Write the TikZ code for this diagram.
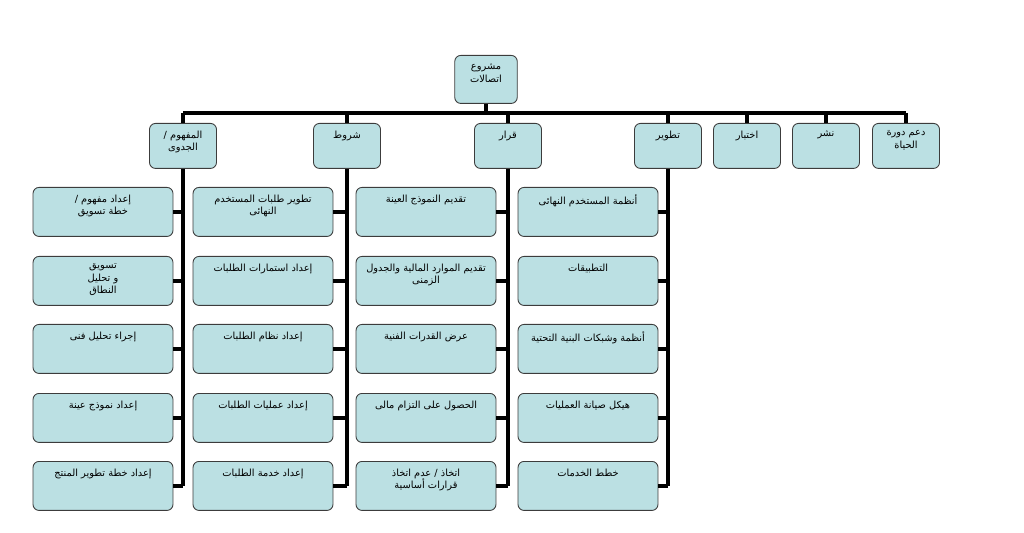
\documentclass[tikz,border=0pt]{standalone}
\usepackage{fontspec}
\newfontfamily\arabicfont[Script=Arabic]{DejaVu Sans}
\TeXXeTstate=1
\usetikzlibrary{positioning}
\definecolor{boxfill}{RGB}{187,224,227}
\definecolor{boxline}{RGB}{60,60,60}
\newcommand{\ar}[1]{{\arabicfont\beginR #1\endR}}
\newcommand{\kidtxt}[1]{\parbox[t][0.9cm][t]{2.6cm}{\fontsize{5.6}{7.2}\selectfont\centering\vspace{3pt}#1}}
\newcommand{\toptxt}[1]{\parbox[t][0.82cm][t]{1.25cm}{\fontsize{5.6}{7.2}\selectfont\centering\vspace{3pt}#1}}
\begin{document}
\begin{tikzpicture}[x=0.02cm,y=-0.02cm,
    kid/.style={draw=boxline,fill=boxfill,rounded corners=1.2mm,line width=0.5pt,
        minimum width=2.8cm,minimum height=0.98cm,inner sep=0pt,anchor=north},
    head/.style={kid,minimum width=1.34cm,minimum height=0.9cm},
    conn/.style={line width=2pt}]
	\useasboundingbox (0,0) rectangle (1024,533);
	
	\node[head,minimum width=1.24cm,minimum height=0.96cm] (root) at (486,55) {\toptxt{\ar{مشروع}\\\ar{اتصالات}}};
	
	\coordinate (barL) at (183,113);
	\coordinate (barR) at (906,113);
	
	\node[head] (t1) at (183,123) {\toptxt{\ar{المفهوم /}\\\ar{الجدوى}}};
	\node[head] (t2) at (347,123) {\toptxt{\ar{شروط}}};
	\node[head] (t3) at (508,123) {\toptxt{\ar{قرار}}};
	\node[head] (t4) at (668,123) {\toptxt{\ar{تطوير}}};
	\node[head] (t5) at (747,123) {\toptxt{\ar{اختبار}}};
	\node[head] (t6) at (826,123) {\toptxt{\ar{نشر}}};
	\node[head] (t7) at (906,123) {\toptxt{\ar{دعم دورة}\\\ar{الحياة}}};
	
	% column 1
	\node[kid] (c1r1) at (103,187) {\kidtxt{\ar{إعداد مفهوم /}\\\ar{خطة تسويق}}};
	\node[kid] (c1r2) at (103,256) {\kidtxt{\ar{تسويق}\\\ar{و تحليل}\\\ar{النطاق}}};
	\node[kid] (c1r3) at (103,324) {\kidtxt{\ar{إجراء تحليل فنى}}};
	\node[kid] (c1r4) at (103,393) {\kidtxt{\ar{إعداد نموذج عينة}}};
	\node[kid] (c1r5) at (103,461) {\kidtxt{\ar{إعداد خطة تطوير المنتج}}};
	
	% column 2
	\node[kid] (c2r1) at (263,187) {\kidtxt{\ar{تطوير طلبات المستخدم}\\\ar{النهائى}}};
	\node[kid] (c2r2) at (263,256) {\kidtxt{\ar{إعداد استمارات الطلبات}}};
	\node[kid] (c2r3) at (263,324) {\kidtxt{\ar{إعداد نظام الطلبات}}};
	\node[kid] (c2r4) at (263,393) {\kidtxt{\ar{إعداد عمليات الطلبات}}};
	\node[kid] (c2r5) at (263,461) {\kidtxt{\ar{إعداد خدمة الطلبات}}};
	
	% column 3
	\node[kid] (c3r1) at (426,187) {\kidtxt{\ar{تقديم النموذج العينة}}};
	\node[kid] (c3r2) at (426,256) {\kidtxt{\ar{تقديم الموارد المالية والجدول}\\\ar{الزمنى}}};
	\node[kid] (c3r3) at (426,324) {\kidtxt{\ar{عرض القدرات الفنية}}};
	\node[kid] (c3r4) at (426,393) {\kidtxt{\ar{الحصول على التزام مالى}}};
	\node[kid] (c3r5) at (426,461) {\kidtxt{\ar{اتخاذ / عدم اتخاذ}\\\ar{قرارات أساسية}}};
	
	% column 4
	\node[kid] (c4r1) at (588,187) {\kidtxt{\ar{أنظمة المستخدم النهائى}}};
	\node[kid] (c4r2) at (588,256) {\kidtxt{\ar{التطبيقات}}};
	\node[kid] (c4r3) at (588,324) {\kidtxt{\ar{أنظمة وشبكات البنية التحتية}}};
	\node[kid] (c4r4) at (588,393) {\kidtxt{\ar{هيكل صيانة العمليات}}};
	\node[kid] (c4r5) at (588,461) {\kidtxt{\ar{خطط الخدمات}}};
	
	\draw[conn] (root.south) -- (root.south|-barL);
	\draw[conn] (barL) -- (barR);
	\foreach \t in {t1,t2,t3,t4,t5,t6,t7}
		\draw[conn] (\t.north) -- (\t.north|-barL);
	\foreach \c in {1,2,3,4}{
		\draw[conn] (t\c.south) -- (t\c.south|-c\c r5.east);
		\foreach \r in {1,...,5}
			\draw[conn] (c\c r\r.east) -- (c\c r\r.east-|t\c.south);
	}
\end{tikzpicture}
\end{document}
